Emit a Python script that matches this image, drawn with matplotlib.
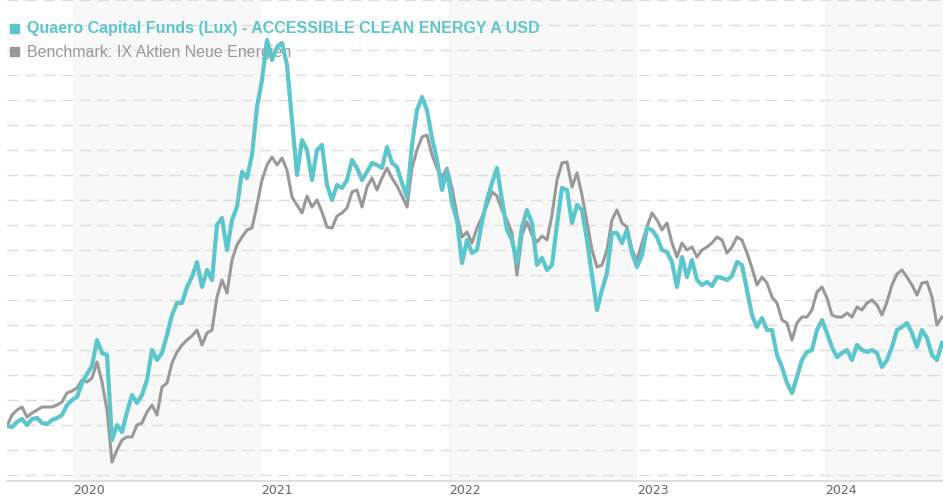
import matplotlib
matplotlib.use("Agg")
import matplotlib.pyplot as plt
from matplotlib.patches import Rectangle
import pandas as pd

# ---------------- data ----------------
fund_name = "Quaero Capital Funds (Lux) - ACCESSIBLE CLEAN ENERGY A USD"
bench_name = "Benchmark: IX Aktien Neue Energien"
start_date = "2019-08-26"
end_date = "2024-08-15"
year_labels = ["2020", "2021", "2022", "2023", "2024"]
shaded_years = [2020, 2022, 2024]

fund_values = [
    99.6, 99.2, 101.2, 102.4, 100.0, 102.4, 102.8, 100.8, 100.4, 102.0,
    102.8, 104.0, 108.0, 110.0, 111.2, 116.8, 120.4, 123.6, 134.0, 128.8,
    128.0, 94.0, 100.0, 97.2, 105.2, 112.0, 108.8, 112.0, 118.0, 130.0,
    126.0, 128.8, 136.0, 144.0, 148.8, 148.8, 155.2, 159.2, 165.2, 155.2,
    162.0, 158.0, 180.0, 182.8, 170.0, 182.0, 187.2, 201.2, 198.8, 208.0,
    227.2, 238.0, 254.0, 246.0, 251.2, 252.8, 244.0, 222.0, 200.0, 214.0,
    210.0, 198.0, 210.0, 212.0, 196.0, 190.0, 196.0, 194.8, 198.0, 206.0,
    202.8, 198.0, 201.2, 204.8, 204.0, 202.8, 211.2, 204.8, 203.2, 196.8,
    191.2, 212.0, 226.0, 231.2, 226.0, 214.8, 206.0, 194.0, 202.0, 188.8,
    182.0, 164.8, 174.0, 168.8, 170.0, 181.2, 190.0, 196.8, 202.8, 190.0,
    178.0, 174.0, 164.8, 179.2, 186.0, 180.8, 164.0, 166.8, 162.0, 164.0,
    180.0, 194.8, 194.0, 180.8, 188.0, 186.0, 174.0, 160.0, 146.0, 154.0,
    160.8, 176.8, 176.8, 172.8, 178.0, 168.8, 163.2, 168.0, 178.8, 178.0,
    175.2, 170.0, 169.2, 165.2, 155.2, 167.2, 159.2, 166.0, 158.0, 156.0,
    157.2, 155.6, 159.2, 158.8, 158.0, 159.6, 165.2, 164.0, 154.0, 144.0,
    139.2, 142.8, 138.0, 138.0, 128.0, 123.2, 116.8, 112.8, 119.2, 126.0,
    129.2, 130.0, 138.0, 142.0, 136.8, 131.2, 127.2, 128.8, 130.0, 126.0,
    132.0, 130.0, 129.2, 130.0, 128.8, 123.2, 126.0, 131.2, 138.0, 139.2,
    140.8, 136.8, 131.2, 138.0, 134.8, 128.0, 126.0, 132.8,
]

bench_values = [
    99.6, 104.0, 106.0, 107.2, 103.2, 104.8, 106.0, 107.2, 107.2, 107.2,
    108.0, 109.2, 112.8, 113.6, 114.8, 118.0, 117.2, 118.8, 125.2, 117.2,
    106.0, 85.2, 90.0, 94.0, 95.2, 95.2, 100.0, 100.8, 105.2, 108.0,
    104.0, 115.2, 116.8, 124.8, 129.2, 132.0, 134.0, 135.6, 138.0, 132.0,
    136.8, 138.0, 151.2, 158.0, 152.8, 166.0, 172.0, 175.2, 178.0, 178.8,
    188.0, 198.0, 204.0, 207.2, 204.0, 206.8, 202.0, 191.2, 188.0, 184.8,
    191.6, 187.2, 190.0, 185.2, 179.2, 178.8, 183.6, 184.8, 186.8, 193.2,
    194.0, 187.2, 195.2, 198.8, 194.0, 198.8, 202.8, 198.8, 195.6, 191.6,
    187.2, 202.8, 210.0, 215.2, 216.0, 208.0, 202.8, 199.2, 202.8, 194.8,
    184.0, 175.2, 177.2, 172.8, 178.8, 183.2, 188.0, 193.2, 191.6, 186.0,
    182.0, 176.8, 160.0, 176.0, 181.2, 176.0, 173.2, 175.6, 174.0, 184.0,
    198.0, 204.8, 205.2, 195.2, 200.8, 192.0, 181.2, 170.0, 163.2, 164.0,
    170.0, 182.0, 186.0, 180.8, 179.2, 170.0, 166.0, 172.8, 179.2, 184.8,
    182.0, 178.0, 180.8, 172.8, 167.2, 172.8, 170.0, 171.2, 167.2, 170.0,
    171.2, 172.8, 175.2, 174.0, 168.8, 171.2, 175.2, 174.0, 168.8, 162.8,
    156.0, 159.2, 156.8, 151.2, 148.8, 142.0, 140.8, 134.0, 140.8, 143.2,
    143.2, 146.0, 153.2, 155.2, 150.8, 144.0, 143.2, 143.2, 144.8, 143.2,
    147.2, 146.0, 148.8, 150.0, 148.0, 144.0, 149.2, 156.0, 160.4, 162.0,
    159.2, 156.0, 152.0, 156.8, 157.2, 151.2, 140.0, 143.2,
]

# ---------------- styling ----------------
TEAL = "#5CC6CD"
GRAY = "#999999"
BAND = "#F8F8F8"
GRID = "#DEDEDE"

fig = plt.figure(figsize=(9.43, 5.0), dpi=100)
ax = fig.add_axes([7 / 943, 1 - 481 / 500, 936 / 943, 481 / 500])

fund_dates = pd.date_range(start_date, end_date, periods=len(fund_values))
bench_dates = pd.date_range(start_date, end_date, periods=len(bench_values))

# year bands
for yr in shaded_years:
    ax.axvspan(pd.Timestamp(f"{yr}-01-01"), pd.Timestamp(f"{yr + 1}-01-01"),
               color=BAND, zorder=0, lw=0)

# dashed horizontal grid
for v in range(80, 271, 10):
    ax.axhline(v, color=GRID, lw=1.0, ls=(0, (8, 5)), zorder=0.5)

# lines
ax.plot(bench_dates, bench_values, color=GRAY, lw=2.2, zorder=3,
        solid_joinstyle="round")
ax.plot(fund_dates, fund_values, color=TEAL, lw=3.0, zorder=4,
        solid_joinstyle="round")

ax.set_xlim(pd.Timestamp("2019-08-26"), pd.Timestamp("2024-08-17"))
ax.set_ylim(77.6, 270.0)

for s in ["top", "right", "left"]:
    ax.spines[s].set_visible(False)
ax.spines["bottom"].set_color("#D9D9D9")
ax.spines["bottom"].set_linewidth(1.2)
ax.set_yticks([])
ax.set_xticks([])

# year labels (left aligned at year start)
for lab in year_labels:
    ax.text(pd.Timestamp(f"{lab}-01-01"), -0.006, lab,
            transform=ax.get_xaxis_transform(), ha="left", va="top",
            fontsize=9, color="#666666", family="DejaVu Sans")

# legend
fig.patches.append(Rectangle((10 / 943, 1 - 33 / 500), 9 / 943, 9 / 500,
                             transform=fig.transFigure, color=TEAL, zorder=2))
fig.patches.append(Rectangle((10 / 943, 1 - 56 / 500), 9 / 943, 9 / 500,
                             transform=fig.transFigure, color=GRAY, zorder=2))
ax.text(20 / 936, 1 - 29 / 481, fund_name, transform=ax.transAxes,
        ha="left", va="center", fontsize=11.5, fontweight="bold", color=TEAL,
        family="Liberation Sans", zorder=2)
ax.text(20 / 936, 1 - 52 / 481, bench_name, transform=ax.transAxes,
        ha="left", va="center", fontsize=11.5, color=GRAY,
        family="Liberation Sans", zorder=2)

fig.savefig("out.png", dpi=100)
